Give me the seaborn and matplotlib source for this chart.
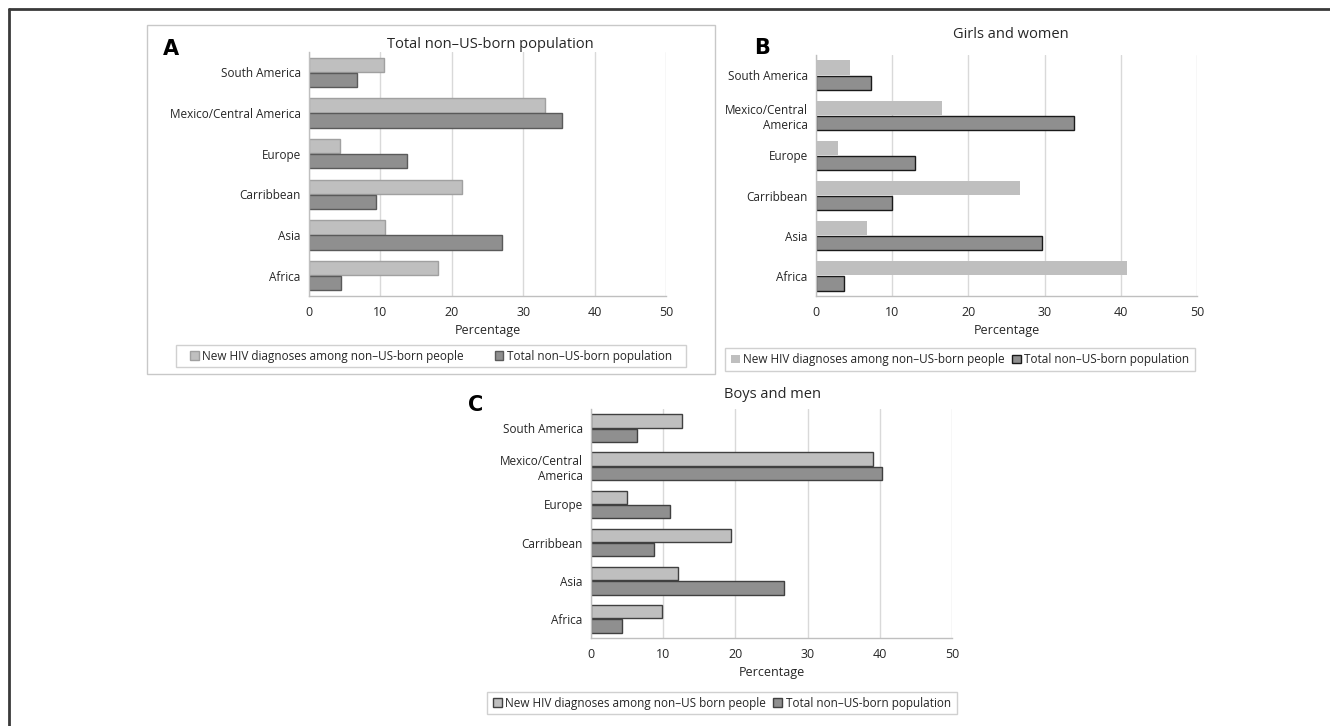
import matplotlib
matplotlib.use('Agg')
import matplotlib.pyplot as plt
import seaborn as sns
import pandas as pd

# regions, top to bottom as in the figure
regions = ['South America', 'Mexico/Central America', 'Europe', 'Carribbean', 'Asia', 'Africa']
regions_wrapped = ['South America', 'Mexico/Central\nAmerica', 'Europe', 'Carribbean', 'Asia', 'Africa']

# A - total non-US-born population
a_new = [10.5, 33.1, 4.4, 21.4, 10.7, 18.0]
a_total = [6.7, 35.5, 13.7, 9.4, 27.0, 4.5]
# B - girls and women
b_new = [4.5, 16.5, 2.9, 26.8, 6.7, 40.8]
b_total = [7.2, 33.8, 13.0, 10.0, 29.6, 3.7]
# C - boys and men
c_new = [12.6, 39.0, 5.0, 19.4, 12.1, 9.9]
c_total = [6.4, 40.3, 11.0, 8.7, 26.8, 4.3]

xticks = [0, 10, 20, 30, 40, 50]

new_lab = 'New HIV diagnoses among non\u2013US-born people'
new_lab_c = 'New HIV diagnoses among non\u2013US born people'
tot_lab = 'Total non\u2013US-born population'

light = '#BFBFBF'
dark = '#8F8F8F'
txt = '#262626'

sns.set_style('white')
plt.rcParams['font.family'] = ['Open Sans', 'DejaVu Sans']

W, H = 1330, 726
fig = plt.figure(figsize=(W / 100, H / 100), dpi=100)


def fx(x):
    return x / W


def fy(y):
    return 1 - y / H


def panel(box, new, total, labels, new_lab, edges, title, title_xy, letter, letter_xy, leg_box):
    x0, y0, x1, y1 = box
    ax = fig.add_axes([fx(x0), fy(y1), fx(x1 - x0), (y1 - y0) / H])
    df = pd.DataFrame({
        'region': regions * 2,
        'value': new + total,
        'series': [new_lab] * 6 + [tot_lab] * 6,
    })
    sns.barplot(data=df, x='value', y='region', hue='series', orient='h',
                palette=[light, dark], width=0.75, gap=0.06, ax=ax,
                legend=False, saturation=1)
    for cont, (ec, lw) in zip(ax.containers, edges):
        for bar in cont:
            bar.set_edgecolor(ec)
            bar.set_linewidth(lw)
    ax.set_xlim(0, 50)
    ax.set_xticks(xticks)
    ax.set_yticks(range(6))
    ax.set_yticklabels(labels)
    ax.set_xlabel('Percentage', fontsize=9, color=txt, labelpad=4)
    ax.set_ylabel('')
    ax.xaxis.grid(True, color='#D9D9D9', lw=1)
    ax.set_axisbelow(True)
    for s in ['top', 'right']:
        ax.spines[s].set_visible(False)
    for s in ['left', 'bottom']:
        ax.spines[s].set_color('#BFBFBF')
        ax.spines[s].set_linewidth(1)
    ax.tick_params(axis='x', length=4, color='#BFBFBF', labelsize=9, labelcolor=txt, pad=3)
    ax.tick_params(axis='y', length=0, labelsize=8.5, labelcolor=txt, pad=6)
    fig.text(fx(title_xy[0]), fy(title_xy[1]), title, ha='center', va='center',
             fontsize=10.5, color=txt)
    fig.text(fx(letter_xy[0]), fy(letter_xy[1]), letter, ha='center', va='center',
             fontsize=15, fontweight='bold', color='black', family='DejaVu Sans')
    lx0, ly0, lx1, ly1 = leg_box
    fig.add_artist(plt.Rectangle((fx(lx0), fy(ly1)), fx(lx1 - lx0), (ly1 - ly0) / H,
                                 transform=fig.transFigure, fill=False,
                                 ec='#D0D0D0', lw=1))
    fig.legend(handles=list(ax.containers), labels=[new_lab, tot_lab],
               loc='center', bbox_to_anchor=(fx((lx0 + lx1) / 2), fy((ly0 + ly1) / 2)),
               ncol=2, frameon=False, fontsize=8.5, handlelength=0.75,
               handleheight=0.75, handletextpad=0.3, columnspacing=lx_gap(leg_box),
               labelcolor=txt, borderpad=0)
    return ax


def lx_gap(leg_box):
    return 2.6 if leg_box[2] - leg_box[0] > 500 else 0.6


# outer page frame (top and left only)
fig.add_artist(plt.Line2D([fx(9), 1], [fy(9), fy(9)], transform=fig.transFigure,
                          color='#3A3A3A', lw=2))
fig.add_artist(plt.Line2D([fx(9), fx(9)], [fy(9), 0], transform=fig.transFigure,
                          color='#3A3A3A', lw=2))
# panel A box
fig.add_artist(plt.Rectangle((fx(147), fy(374)), fx(715 - 147), (374 - 25) / H,
                             transform=fig.transFigure, fill=False, ec='#C8C8C8', lw=1))

panel((309, 52, 666, 296), a_new, a_total, regions, new_lab,
      [('#A0A0A0', 1), ('#5A5A5A', 1)],
      'Total non\u2013US-born population', (490, 44), 'A', (171, 49),
      (176, 345, 686, 367))

panel((816, 55, 1197, 296), b_new, b_total, regions_wrapped, new_lab,
      [('none', 0), ('#1A1A1A', 1)],
      'Girls and women', (1011, 35), 'B', (762, 48),
      (725, 348, 1195, 371))

panel((591, 409, 952, 638), c_new, c_total, regions_wrapped, new_lab_c,
      [('#404040', 1), ('#404040', 1)],
      'Boys and men', (772, 394), 'C', (476, 405),
      (487, 692, 957, 714))

fig.savefig('out.png', dpi=100, facecolor='white')
